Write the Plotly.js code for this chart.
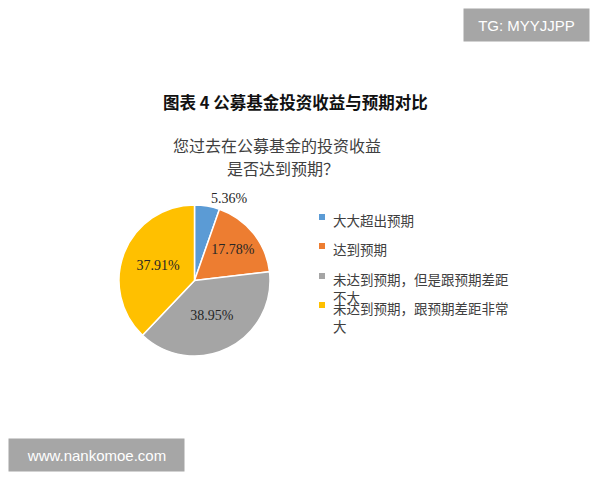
<!DOCTYPE html>
<html><head><meta charset="utf-8">
<script src="https://cdn.plot.ly/plotly-3.0.1.min.js"></script>
<style>html,body{margin:0;padding:0;background:#fff}#chart{width:600px;height:480px}</style>
</head><body><div id="chart"></div>
<script>
const categories = ["大大超出预期", "达到预期", "未达到预期，但是跟预期差距不大", "未达到预期，跟预期差距非常大"];
const legendLabels = ["大大超出预期", "达到预期", "未达到预期，但是跟预期差距<br>不大", "未达到预期，跟预期差距非常<br>大"];
const values = [5.36, 17.78, 38.95, 37.91];
const colors = ["#5B9BD5", "#ED7D31", "#A5A5A5", "#FFC000"];
const textPositions = ["outside", "inside", "inside", "inside"];

const W = 600, H = 480;
const px = x => x / W, py = y => 1 - y / H;

const trace = {
  type: "pie",
  values: values,
  labels: categories,
  sort: false,
  direction: "clockwise",
  rotation: 0,
  marker: {colors: colors, line: {color: "#ffffff", width: 1.5}},
  texttemplate: "%{value:.2f}%",
  textposition: textPositions,
  insidetextorientation: "horizontal",
  textfont: {family: "Liberation Serif, serif", size: 14, color: "#262626"},
  outsidetextfont: {family: "Liberation Serif, serif", size: 14, color: "#262626"},
  domain: {x: [px(119), px(270)], y: [py(356), py(205)]},
  hoverinfo: "label+value",
  showlegend: false
};

const C = {xanchor: "center", yanchor: "middle", xref: "paper", yref: "paper", showarrow: false};
const annotations = [
  Object.assign({text: "<b>图表 4 公募基金投资收益与预期对比</b>", x: px(295), y: py(102),
   font: {family: "Noto Sans CJK SC", size: 16.5, color: "#111"}}, C),
  Object.assign({text: "您过去在公募基金的投资收益", x: px(277), y: py(145),
   font: {family: "Noto Sans CJK SC", size: 16, color: "#404040"}}, C),
  Object.assign({text: "是否达到预期？", x: px(283), y: py(168),
   font: {family: "Noto Sans CJK SC", size: 16, color: "#404040"}}, C),
  Object.assign({text: "TG: MYYJJPP", x: px(526), y: py(25),
   width: 123, height: 30, bgcolor: "#a6a6a6", font: {family: "Liberation Sans, Arial", size: 15, color: "#ffffff"}}, C),
  Object.assign({text: "www.nankomoe.com", x: px(96), y: py(455),
   width: 173, height: 30, bgcolor: "#a6a6a6", font: {family: "Liberation Sans, Arial", size: 15, color: "#ffffff"}}, C)
];
const shapes = [];
const legendY = [217, 246, 276, 305];
legendLabels.forEach((lab, i) => {
  const y = legendY[i];
  shapes.push({type: "rect", xref: "paper", yref: "paper", x0: px(319), x1: px(325), y0: py(y + 3), y1: py(y - 3),
    fillcolor: colors[i], line: {width: 0}});
  annotations.push({text: lab, x: px(331), y: py(y - 9), xref: "paper", yref: "paper", xanchor: "left", yanchor: "top",
    align: "left", showarrow: false, font: {family: "Noto Sans CJK SC", size: 13.5, color: "#404040"}});
});

const layout = {
  width: W, height: H,
  margin: {l: 0, r: 0, t: 0, b: 0},
  paper_bgcolor: "#ffffff",
  showlegend: false,
  annotations: annotations,
  shapes: shapes
};
Plotly.newPlot("chart", [trace], layout, {displayModeBar: false, staticPlot: true});
</script></body></html>
